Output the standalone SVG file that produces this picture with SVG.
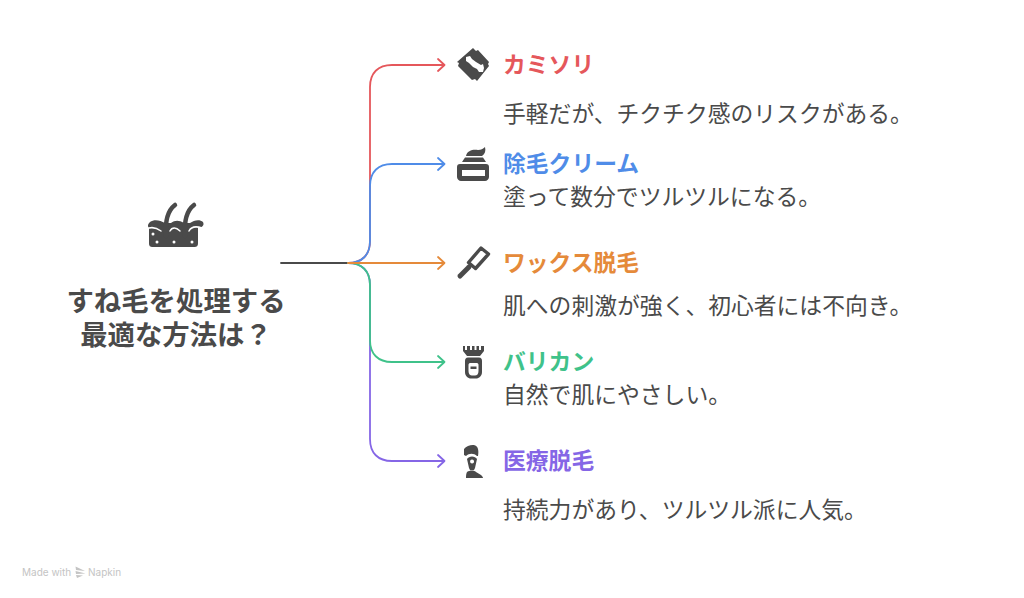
<svg xmlns="http://www.w3.org/2000/svg" width="1024" height="598" viewBox="0 0 1024 598">
<style>
text{font-family:"Liberation Sans","Noto Sans CJK JP",sans-serif;}
.t{font-size:22.800px;font-weight:700;}
.d{font-size:22.800px;fill:#4a4a4a;}
.h{font-size:27.400px;font-weight:700;fill:#4a4a4a;text-anchor:middle;}
.c{fill:none;stroke-width:1.800;stroke-linecap:round;stroke-linejoin:round;}
.i{fill:#4a4a4a;}
.w{fill:none;stroke:#fff;stroke-width:1.500;stroke-linecap:round;}
.m{font-size:10px;fill:#c4c4c4;font-family:Inter,sans-serif;}
</style>
<rect width="1024" height="598" fill="#fff"/>
<g id="connectors">
<path class="c" stroke="#4a4a4a" d="M281 263H348"/>
<path class="c" stroke="#e5575b" d="M348 263C362 263 370 255 370 241V87C370 73 378 65 392 65H444M438 59L444.500 65L438 71"/>
<path class="c" stroke="#4f8ce8" d="M348 263C362 263 370 255 370 241V186C370 172 378 164 392 164H444M438 158L444.500 164L438 170"/>
<path class="c" stroke="#8566e6" d="M348 263C362 263 370 271 370 285V439C370 453 378 461 392 461H444M438 455L444.500 461L438 467"/>
<path class="c" stroke="#3fc28a" d="M348 263C362 263 370 271 370 285V340C370 354 378 362 392 362H444M438 356L444.500 362L438 368"/>
<path class="c" stroke="#e58a3a" d="M348 263H444M438 257L444.500 263L438 269"/>
</g>
<g id="root">
<path class="i" d="M150 222C154 219 160 220 165 223H171C175 220 179 220 184 223H190C194 220 200 219 203 222C205 226 201 228 198 227V243C198 246 197 247 194 247H153C150 247 149 246 149 243V228C147 226 148 224 150 222Z"/>
<path fill="none" stroke="#4a4a4a" stroke-width="4.500" stroke-linecap="round" d="M166 236C165 222 167 211 175 205M185 236C184 222 186 211 194 205"/>
<path class="w" d="M149 228C153 227 157 228 161 231M170 231C172 227 176 227 180 231M189 231C191 227 196 226 202 228"/>
<g fill="#fff"><circle cx="153" cy="234" r="1.500"/><circle cx="157" cy="242" r="1.500"/><circle cx="174" cy="242" r="1.500"/><circle cx="192" cy="242" r="1.500"/><circle cx="200" cy="235" r="1.500"/></g>
<text class="h" x="176" y="311">すね毛を処理する</text>
<text class="h" x="176" y="345">最適な方法は？</text>
</g>
<g id="n1">
<path class="i" d="M473 48L476 51L478 50L489 62L488 64L489 66L477 81L475 79L472 80L458 66L459 63L457 62Z"/>
<path fill="#fff" d="M466 57L470 56L472 59L476 62L481 65L483 64L484 68L483 72L479 72L477 69L473 67L469 63L466 61Z"/>
<text class="t" x="503" y="73" fill="#e5575b">カミソリ</text>
<text class="d" x="503" y="122">手軽だが、チクチク感のリスクがある。</text>
</g>
<g id="n2">
<path class="i" d="M466 156C467 150 474 149 478 150C481 150 483 149 485 147C486 151 485 154 482 156Z"/>
<path class="i" d="M465 157.500H483L486 162H462Z"/>
<path class="i" fill-rule="evenodd" d="M460 164H486C488 164 489 165 489 167V177C489 179 487 181 485 181H461C459 181 457 179 457 177V167C457 165 458 164 460 164ZM462 170V176H485V170Z"/>
<text class="t" x="503" y="172" fill="#4f8ce8">除毛クリーム</text>
<text class="d" x="503" y="205">塗って数分でツルツルになる。</text>
</g>
<g id="n3">
<path fill="none" stroke="#4a4a4a" stroke-width="3.400" stroke-linejoin="round" d="M481 248L488.500 254L475.500 268.500L468.500 262.500Z"/>
<path fill="none" stroke="#4a4a4a" stroke-width="5" stroke-linecap="round" d="M469 267L460 276"/>
<text class="t" x="503" y="271" fill="#e58a3a">ワックス脱毛</text>
<text class="d" x="503" y="314">肌への刺激が強く、初心者には不向き。</text>
</g>
<g id="n4">
<path class="i" d="M463 346H465V350H467V346H470V350H472V346H474.500V350H476.500V346H479V350H481V346H484V351L480 356H467L463 351Z"/>
<path class="i" fill-rule="evenodd" d="M468 357.500H479C481 357.500 482 359 482 361V372C482 376 479 378.500 476 378.500H471C468 378.500 465 376 465 372V361C465 359 466 357.500 468 357.500ZM470 363C469 363 468.500 364 468.500 365V371C468.500 374 470 375.500 472 375.500H475C477 375.500 478.500 374 478.500 371V365C478.500 364 478 363 477 363Z"/>
<rect class="i" x="470.500" y="366.500" width="6" height="2.500"/>
<text class="t" x="503" y="370" fill="#3fc28a">バリカン</text>
<text class="d" x="503" y="403">自然で肌にやさしい。</text>
</g>
<g id="n5">
<path class="i" d="M464 449C467 445 474 444 476 446C478 447 479 451 478 456L477 456C474 453 469 453 466 456L464 455Z"/>
<path class="i" fill-rule="evenodd" d="M467 459C469 455.500 475 455.500 477 459L475 468L474 470H470L469 468ZM472 459.500A2 2 0 1 0 472.100 463.500A2 2 0 1 0 472 459.500Z"/>
<path class="i" d="M467 472C470 470 474 470 476 472L481 475C482 476 483 477 483 478H466C466 476 466 474 467 472Z"/>
<text class="t" x="503" y="469" fill="#8566e6">医療脱毛</text>
<text class="d" x="503" y="518">持続力があり、ツルツル派に人気。</text>
</g>
<g id="watermark">
<text class="m" x="22" y="575.500">Made with</text>
<path fill="#c4c4c4" d="M75.500 566.500L85 571L76 570ZM75.500 571L85.500 573.500L76 574ZM76 575L83 575.500L77 578Z"/>
<text class="m" x="88" y="575.500">Napkin</text>
</g>
</svg>
